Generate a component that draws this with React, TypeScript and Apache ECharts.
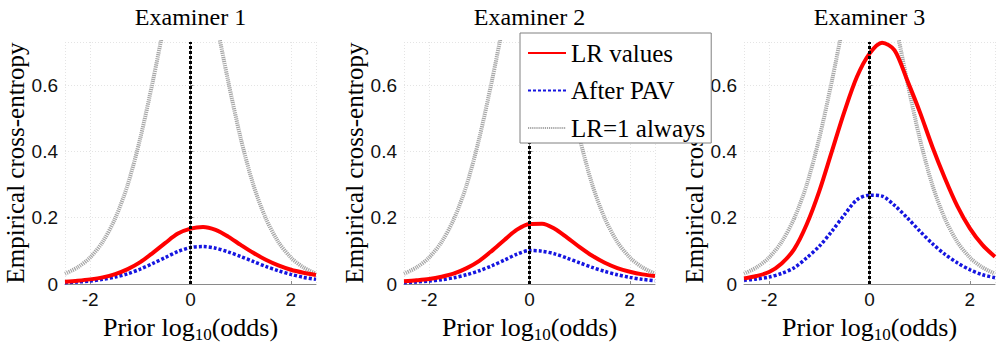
import React, { useEffect, useRef } from "react";
import * as echarts from "echarts";

const priorLogOdds = [-2.5, -2.25, -2, -1.75, -1.5, -1.25, -1, -0.75, -0.5, -0.25, 0, 0.25, 0.5, 0.75, 1, 1.25, 1.5, 1.75, 2, 2.25, 2.5];

const titles = ["Examiner 1", "Examiner 2", "Examiner 3"];
const seriesNames = ["LR values", "After PAV", "LR=1 always"];
const xAxisTitleParts = ["Prior log", "10", "(odds)"];

const lrValues1 = [0.007, 0.010, 0.014, 0.020, 0.030, 0.045, 0.066, 0.094, 0.124, 0.152, 0.167, 0.172, 0.163, 0.143, 0.118, 0.094, 0.073, 0.056, 0.043, 0.034, 0.027];
const afterPav1 = [0.004, 0.006, 0.009, 0.014, 0.021, 0.031, 0.045, 0.062, 0.080, 0.098, 0.110, 0.113, 0.108, 0.097, 0.083, 0.068, 0.053, 0.040, 0.029, 0.020, 0.014];

const lrValues2 = [0.008, 0.011, 0.015, 0.022, 0.032, 0.048, 0.070, 0.100, 0.133, 0.164, 0.181, 0.182, 0.167, 0.140, 0.111, 0.085, 0.064, 0.048, 0.037, 0.029, 0.024];
const afterPav2 = [0.004, 0.006, 0.009, 0.013, 0.019, 0.028, 0.040, 0.055, 0.072, 0.090, 0.101, 0.099, 0.091, 0.078, 0.064, 0.050, 0.038, 0.028, 0.020, 0.014, 0.010];

const lrValues3 = [0.017, 0.024, 0.036, 0.062, 0.105, 0.180, 0.280, 0.400, 0.520, 0.625, 0.695, 0.728, 0.705, 0.615, 0.520, 0.415, 0.320, 0.235, 0.168, 0.118, 0.082];
const afterPav3 = [0.011, 0.015, 0.021, 0.032, 0.049, 0.079, 0.114, 0.159, 0.209, 0.254, 0.268, 0.265, 0.237, 0.200, 0.160, 0.122, 0.090, 0.064, 0.043, 0.028, 0.019];

const lrAlwaysOne = [0.031, 0.050, 0.080, 0.127, 0.198, 0.300, 0.440, 0.612, 0.796, 0.943, 1.000, 0.943, 0.796, 0.612, 0.440, 0.300, 0.198, 0.127, 0.080, 0.050, 0.031];

const panels = [
  { lr: lrValues1, pav: afterPav1 },
  { lr: lrValues2, pav: afterPav2 },
  { lr: lrValues3, pav: afterPav3 },
];

const xMin = -2.5;
const xMax = 2.5;
const yMin = 0;
const yMax = 0.73;
const yInterval = 0.2;

const gridLefts = [65, 404, 744];
const gridTop = 42;
const gridWidth = 251;
const gridHeight = 242;

const SERIF = "Liberation Serif";
const SANS = "Liberation Sans";

export default function App() {
  const ref = useRef<HTMLDivElement>(null);

  useEffect(() => {
    document.body.style.margin = "0";
    if (!ref.current) return;
    const chart = echarts.init(ref.current, undefined, { renderer: "svg" });

    const pair = (ys: number[]) => priorLogOdds.map((x, i) => [x, ys[i]]);

    const grids = gridLefts.map((left) => ({
      left,
      top: gridTop,
      width: gridWidth,
      height: gridHeight,
      containLabel: false,
      outerBoundsMode: "none",
    }));

    const xAxes = gridLefts.map((_, i) => ({
      type: "value",
      gridIndex: i,
      min: xMin,
      max: xMax,
      splitNumber: 3,
      axisLine: { show: true, onZero: false, lineStyle: { color: "#8a8a8a", width: 1 } },
      axisTick: { show: true, inside: true, length: 3, lineStyle: { color: "#8a8a8a" } },
      axisLabel: {
        showMinLabel: false,
        showMaxLabel: false,
        fontFamily: SANS,
        fontSize: 19,
        color: "#111",
        margin: 6,
      },
      splitLine: { show: true, lineStyle: { color: "#e4e4e4", type: [1, 2], width: 1 } },
    }));

    const yAxes = gridLefts.map((_, i) => ({
      type: "value",
      gridIndex: i,
      min: yMin,
      max: yMax,
      interval: yInterval,
      name: "Empirical cross-entropy",
      nameLocation: "middle",
      nameGap: i === 0 ? 21 : 31,
      nameTextStyle: { fontFamily: SERIF, fontSize: 25, color: "#000" },
      axisLine: { show: true, lineStyle: { color: "#8a8a8a", width: 1 } },
      axisTick: { show: true, inside: true, length: 3, lineStyle: { color: "#8a8a8a" } },
      axisLabel: {
        showMaxLabel: false,
        fontFamily: SANS,
        fontSize: 19,
        color: "#111",
        margin: 7,
      },
      splitLine: { show: true, lineStyle: { color: "#e4e4e4", type: [1, 2], width: 1 } },
    }));

    const series: any[] = [];
    panels.forEach((p, i) => {
      series.push({
        name: seriesNames[2],
        type: "line",
        xAxisIndex: i,
        yAxisIndex: i,
        data: pair(lrAlwaysOne),
        smooth: 0.3,
        symbol: "none",
        clip: true,
        lineStyle: { color: "#a6a6a6", width: 4, type: [1.2, 0.9] },
        itemStyle: { color: "#a6a6a6" },
        z: 2,
      });
      series.push({
        name: seriesNames[1],
        type: "line",
        xAxisIndex: i,
        yAxisIndex: i,
        data: pair(p.pav),
        smooth: 0.3,
        symbol: "none",
        clip: true,
        lineStyle: { color: "#1515e0", width: 3.5, type: [3, 2], cap: "butt" },
        itemStyle: { color: "#1515e0" },
        z: 3,
      });
      series.push({
        name: seriesNames[0],
        type: "line",
        xAxisIndex: i,
        yAxisIndex: i,
        data: pair(p.lr),
        smooth: 0.3,
        symbol: "none",
        clip: true,
        lineStyle: { color: "#ff0000", width: 4 },
        itemStyle: { color: "#ff0000" },
        z: 4,
        markLine: {
          silent: true,
          symbol: "none",
          label: { show: false },
          lineStyle: { color: "#000", width: 3, type: [3, 2] },
          data: [{ xAxis: 0 }],
          z: 5,
        },
      });
    });

    const graphic: any[] = titles.map((t, i) => ({
      type: "text",
      x: gridLefts[i] + gridWidth / 2,
      y: 5,
      style: {
        text: t,
        font: `24px ${SERIF}`,
        fill: "#000",
        textAlign: "center",
        textVerticalAlign: "top",
      },
    }));

    // x-axis titles "Prior log10(odds)" with a real subscript, laid out as three text pieces
    const mainW = 91.7; // width of "Prior log" at 26px
    const subW = 17; // width of "10" at 17px
    const tailW = 66.4; // width of "(odds)" at 26px
    const totalW = mainW + subW + tailW;
    gridLefts.forEach((left) => {
      const start = left + gridWidth / 2 - totalW / 2;
      graphic.push({
        type: "group",
        children: [
          {
            type: "text",
            x: start,
            y: 340.5,
            style: { text: xAxisTitleParts[0], font: `26px ${SERIF}`, fill: "#000", textAlign: "left", textVerticalAlign: "bottom" },
          },
          {
            type: "text",
            x: start + mainW,
            y: 342.5,
            style: { text: xAxisTitleParts[1], font: `17px ${SERIF}`, fill: "#000", textAlign: "left", textVerticalAlign: "bottom" },
          },
          {
            type: "text",
            x: start + mainW + subW,
            y: 340.5,
            style: { text: xAxisTitleParts[2], font: `26px ${SERIF}`, fill: "#000", textAlign: "left", textVerticalAlign: "bottom" },
          },
        ],
      });
    });

    chart.setOption({
      animation: false,
      backgroundColor: "#fff",
      grid: grids,
      xAxis: xAxes,
      yAxis: yAxes,
      series,
      graphic,
      legend: {
        data: seriesNames,
        orient: "vertical",
        left: 520,
        top: 33,
        itemWidth: 38,
        itemHeight: 2,
        itemGap: 9.5,
        padding: [6, 6, 1, 7],
        backgroundColor: "#fff",
        borderColor: "#808080",
        borderWidth: 1,
        borderRadius: 0,
        selectedMode: false,
        itemStyle: { opacity: 0 },
        textStyle: { fontFamily: SERIF, fontSize: 25, color: "#000", lineHeight: 28 },
        z: 10,
      },
    });

    return () => chart.dispose();
  }, []);

  return <div ref={ref} style={{ width: 1000, height: 343 }} />;
}
